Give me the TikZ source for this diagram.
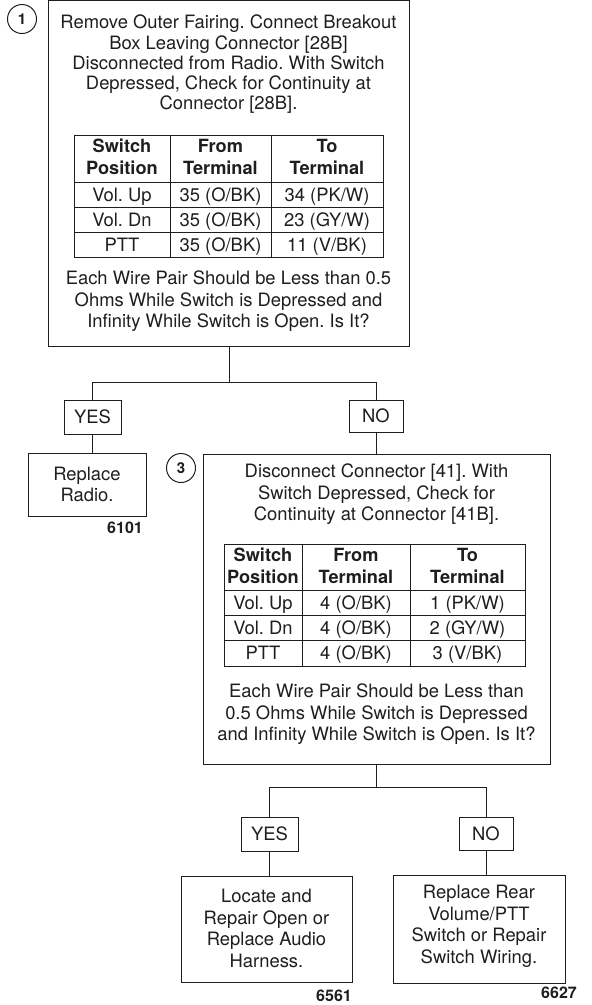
\documentclass[tikz,border=0pt]{standalone}
\usepackage{fontspec}
\setmainfont{TeX Gyre Heros}
\definecolor{ink}{RGB}{30,30,30}
\frenchspacing
\begin{document}
\begin{tikzpicture}[x=1pt,y=-1pt,
  box/.style={draw=ink, line width=1pt, rectangle, inner sep=0pt},
  txt/.style={font=\fontsize{18.4}{20.3}\selectfont, align=center, inner sep=0pt, text=ink},
  txtb/.style={font=\fontsize{18.4}{21.5}\selectfont, align=center, inner sep=0pt, text=ink},
  hd/.style={font=\bfseries\fontsize{18.2}{21.5}\selectfont, align=center, inner sep=0pt, text=ink},
  cell/.style={font=\fontsize{18.4}{20}\selectfont, inner sep=0pt, text height=13.2pt, text depth=0pt, text=ink},
  lbl/.style={box, font=\fontsize{18.4}{20}\selectfont, text height=13.2pt, text depth=0pt, text=ink},
  num/.style={font=\bfseries\fontsize{16}{16}\selectfont, inner sep=0pt, text=ink},
  stepnum/.style={circle, draw=ink, line width=1pt, minimum size=29pt, inner sep=0pt, font=\bfseries\fontsize{15}{15}\selectfont, text=ink},
  conn/.style={draw=ink, line width=1pt},
  grid/.style={draw=ink, line width=1pt}]
\useasboundingbox (0,0) rectangle (592,1005);

% ---------- Step 1 ----------
\node[stepnum] (c1) at (22,19) {1};
\node[box, minimum width=361pt, minimum height=346pt] (b1) at (228.5,173.5) {};
\node[txt] (t1a) at (228.5,64.4) {Remove Outer Fairing. Connect Breakout\\Box Leaving Connector [28B]\\Disconnected from Radio. With Switch\\Depressed, Check for Continuity at\\Connector [28B].};
% table 1
\draw[grid] (74,135) rectangle (383,257);
\draw[grid] (170,135) -- (170,257);
\draw[grid] (271,135) -- (271,257);
\draw[grid] (74,182) -- (383,182);
\draw[grid] (74,207) -- (383,207);
\draw[grid] (74,232) -- (383,232);
\node[hd] (h11) at (122,157) {Switch\\Position};
\node[hd] (h12) at (220.5,157) {From\\Terminal};
\node[hd] (h13) at (327,157) {To\\Terminal};
\node[cell] (r11) at (122,194.5) {Vol. Up};
\node[cell] (r12) at (220.5,194.5) {35 (O/BK)};
\node[cell] (r13) at (327,194.5) {34 (PK/W)};
\node[cell] (r21) at (122,219.5) {Vol. Dn};
\node[cell] (r22) at (220.5,219.5) {35 (O/BK)};
\node[cell] (r23) at (327,219.5) {23 (GY/W)};
\node[cell] (r31) at (122,244.5) {PTT};
\node[cell] (r32) at (220.5,244.5) {35 (O/BK)};
\node[cell] (r33) at (327,244.5) {11 (V/BK)};
\node[txtb] (t1b) at (228.5,301.5) {Each Wire Pair Should be Less than 0.5\\Ohms While Switch is Depressed and\\Infinity While Switch is Open. Is It?};

% ---------- branch 1 ----------
\coordinate (j1) at (229,382);
\node[lbl, minimum width=57pt, minimum height=34pt] (yes1) at (92.5,417) {YES};
\node[lbl, minimum width=54pt, minimum height=32pt] (no1) at (376,416) {NO};
\node[box, minimum width=118pt, minimum height=63pt] (rr) at (87,484.5) {};
\node[txtb] (rrt) at (87,484.5) {Replace\\Radio.};
\node[num] (n6101) at (125,528) {6101};

% ---------- Step 3 ----------
\node[stepnum] (c3) at (181,468) {3};
\node[box, minimum width=347pt, minimum height=310pt] (b3) at (376.5,609) {};
\node[txtb] (t3a) at (376.5,494.5) {Disconnect Connector [41]. With\\Switch Depressed, Check for\\Continuity at Connector [41B].};
% table 2
\draw[grid] (224,544) rectangle (525,666);
\draw[grid] (302,544) -- (302,666);
\draw[grid] (410,544) -- (410,666);
\draw[grid] (224,590) -- (525,590);
\draw[grid] (224,615) -- (525,615);
\draw[grid] (224,640) -- (525,640);
\node[hd] (h21) at (263,566) {Switch\\Position};
\node[hd] (h22) at (356,566) {From\\Terminal};
\node[hd] (h23) at (467.5,566) {To\\Terminal};
\node[cell] (s11) at (263,602.5) {Vol. Up};
\node[cell] (s12) at (356,602.5) {4 (O/BK)};
\node[cell] (s13) at (467.5,602.5) {1 (PK/W)};
\node[cell] (s21) at (263,627.5) {Vol. Dn};
\node[cell] (s22) at (356,627.5) {4 (O/BK)};
\node[cell] (s23) at (467.5,627.5) {2 (GY/W)};
\node[cell] (s31) at (263,652.5) {PTT};
\node[cell] (s32) at (356,652.5) {4 (O/BK)};
\node[cell] (s33) at (467.5,652.5) {3 (V/BK)};
\node[txtb] (t3b) at (376.5,714.5) {Each Wire Pair Should be Less than\\0.5 Ohms While Switch is Depressed\\and Infinity While Switch is Open. Is It?};

% ---------- branch 2 ----------
\coordinate (j2) at (376,787);
\node[lbl, minimum width=57pt, minimum height=34pt] (yes2) at (269.5,834) {YES};
\node[lbl, minimum width=54pt, minimum height=33pt] (no2) at (486,833.5) {NO};
\node[box, minimum width=171pt, minimum height=106pt] (bl) at (266.5,929) {};
\node[txtb] (blt) at (266.5,928.5) {Locate and\\Repair Open or\\Replace Audio\\Harness.};
\node[box, minimum width=172pt, minimum height=108pt] (br) at (479,929) {};
\node[txtb] (brt) at (479,926.5) {Replace Rear\\Volume/PTT\\Switch or Repair\\Switch Wiring.};
\node[num] (n6561) at (334,996) {6561};
\node[num] (n6627) at (559,993) {6627};

% ---------- connectors ----------
\draw[conn] (b1.south -| j1) -- (j1);
\draw[conn] (yes1.north) -- (yes1.north |- j1) -- (no1.north |- j1) -- (no1.north);
\draw[conn] (yes1.south) -- (yes1.south |- rr.north);
\draw[conn] (no1.south) -- (no1.south |- b3.north);
\draw[conn] (b3.south -| j2) -- (j2);
\draw[conn] (yes2.north) -- (yes2.north |- j2) -- (no2.north |- j2) -- (no2.north);
\draw[conn] (yes2.south) -- (yes2.south |- bl.north);
\draw[conn] (no2.south) -- (no2.south |- br.north);
\end{tikzpicture}
\end{document}
